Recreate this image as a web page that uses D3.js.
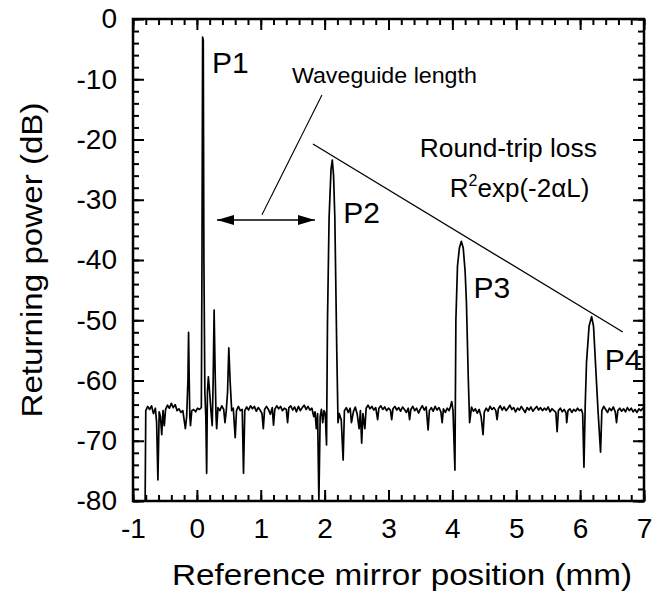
<!DOCTYPE html>
<html>
<head>
<meta charset="utf-8">
<script src="https://cdn.jsdelivr.net/npm/d3@7"></script>
<style>
  html, body { margin: 0; padding: 0; background: #fff; }
  svg { display: block; }
  text { font-family: "Liberation Sans", Arial, Helvetica, sans-serif; fill: #000; }
</style>
</head>
<body>
<svg id="chart" width="653" height="600"></svg>
<script>
// ---- data ----
const xTickValues = [-1, 0, 1, 2, 3, 4, 5, 6, 7];
const yTickValues = [0, -10, -20, -30, -40, -50, -60, -70, -80];
const xDomain = [-1, 7];
const yDomain = [-80, 0];

// Reference mirror position (mm)
const positionMM = [
 -0.81,-0.80,-0.77,-0.74,-0.71,-0.68,-0.65,-0.63,-0.61,-0.59,-0.57,-0.55,-0.53,-0.51,-0.49,-0.46,-0.43,-0.40,-0.37,-0.34,
 -0.31,-0.28,-0.25,-0.22,-0.20,-0.18,-0.16,-0.14,-0.13,-0.12,-0.11,-0.10,-0.08,-0.05,-0.02,0.01,0.04,0.07,0.08,0.09,
 0.10,0.11,0.125,0.14,0.153,0.165,0.18,0.20,0.22,0.24,0.255,0.27,0.285,0.30,0.31,0.33,0.36,0.39,0.42,0.44,
 0.46,0.48,0.50,0.52,0.545,0.57,0.60,0.62,0.65,0.68,0.71,0.73,0.75,0.78,0.81,0.84,0.87,0.90,0.93,0.96,
 0.99,1.02,1.04,1.06,1.09,1.12,1.15,1.18,1.20,1.22,1.25,1.28,1.31,1.34,1.37,1.40,1.42,1.44,1.47,1.50,
 1.53,1.56,1.59,1.62,1.65,1.68,1.71,1.74,1.77,1.80,1.83,1.85,1.87,1.89,1.91,1.93,1.95,1.97,1.99,2.01,
 2.03,2.045,2.07,2.10,2.12,2.14,2.16,2.19,2.21,2.23,2.26,2.29,2.31,2.34,2.37,2.40,2.42,2.45,2.48,2.51,
 2.54,2.56,2.58,2.60,2.63,2.65,2.68,2.71,2.74,2.77,2.80,2.83,2.85,2.88,2.91,2.94,2.97,3.00,3.03,3.05,
 3.07,3.10,3.13,3.16,3.19,3.22,3.25,3.28,3.31,3.33,3.35,3.38,3.41,3.44,3.47,3.50,3.53,3.56,3.59,3.62,
 3.64,3.67,3.70,3.73,3.76,3.79,3.82,3.84,3.86,3.89,3.92,3.95,3.97,3.99,4.01,4.04,4.055,4.08,4.11,4.14,
 4.17,4.20,4.22,4.25,4.27,4.30,4.33,4.36,4.39,4.42,4.45,4.48,4.50,4.53,4.56,4.59,4.62,4.65,4.68,4.70,
 4.72,4.75,4.78,4.81,4.84,4.87,4.90,4.93,4.96,4.99,5.02,5.05,5.08,5.11,5.14,5.17,5.20,5.23,5.26,5.29,
 5.32,5.35,5.38,5.41,5.44,5.47,5.50,5.53,5.56,5.59,5.62,5.64,5.66,5.69,5.72,5.75,5.78,5.79,5.81,5.84,
 5.87,5.90,5.93,5.96,5.99,6.02,6.04,6.06,6.08,6.10,6.14,6.18,6.21,6.24,6.28,6.32,6.34,6.37,6.40,6.43,
 6.46,6.49,6.52,6.55,6.57,6.59,6.62,6.65,6.68,6.71,6.74,6.77,6.80,6.83,6.86,6.89,6.92,6.95,6.98,7.00
];
// Returning power (dB)
const powerDB = [
 -80,-65,-64.3,-64.8,-64.2,-65.5,-64.6,-67,-76.5,-65.2,-66,-69,-65,-67.5,-64.8,-64.1,-64.6,-63.8,-64.5,-64,
 -65,-64.7,-65.3,-65,-66.5,-68,-66,-60,-52,-60,-66,-67.5,-65,-64.8,-65.2,-64.6,-64.8,-64.5,-40,-3,
 -3.5,-40,-62,-66,-75.4,-62,-59.4,-62,-65,-67.5,-60,-48.3,-58,-66,-68,-64.5,-65,-64.2,-64.8,-67,
 -65,-62,-54.6,-60,-65,-64.6,-69.5,-65,-64.3,-65,-64.8,-75.4,-65,-64.4,-64.9,-64.2,-64.7,-64.3,-65.1,-64.5,
 -64.9,-65.5,-68,-64.8,-64.3,-64.8,-65.6,-64.5,-67.4,-64.8,-64.2,-64.7,-64.3,-65,-64.6,-64.8,-67,-64.5,-64.2,-64.9,
 -64.4,-65.2,-64.3,-65,-64.5,-64.1,-64.8,-64.3,-64.9,-64.6,-66,-65.2,-68,-65.5,-80,-66,-64.8,-67,-65,-65.5,
 -70.7,-50,-33,-25,-23.4,-26,-33,-55,-67,-65.5,-66.5,-73.2,-65,-64.5,-65.3,-64.6,-67,-65.2,-64.4,-65.6,
 -68,-65,-70.4,-65.5,-68,-64.6,-64.1,-64.7,-64.3,-64.9,-64.5,-66.5,-64.6,-64.2,-64.8,-64.4,-65,-64.6,-64.9,-66.5,
 -64.7,-64.3,-64.9,-64.5,-65.1,-64.4,-64.8,-65.3,-64.6,-66.5,-64.8,-64.3,-65,-64.6,-65.4,-64.7,-64.2,-64.9,-64.4,-68.2,
 -65,-64.5,-65.1,-64.3,-64.9,-64.5,-65.2,-67,-64.7,-65.3,-64.6,-65,-64.3,-63.5,-65,-74.9,-50,-41,-38,-36.9,
 -38,-42,-47,-60,-67,-64.4,-65.1,-64.7,-65.4,-64.8,-66,-69,-65.2,-64.6,-65.1,-64.3,-64.8,-64.5,-65,-66.5,
 -64.7,-64.2,-64.9,-64.4,-65,-64.6,-64.1,-64.8,-64.5,-65.2,-64.6,-64.9,-64.3,-64.8,-65.3,-64.5,-64.9,-64.4,-65.1,-64.7,
 -64.3,-64.9,-64.5,-65,-64.6,-64.9,-64.4,-65.2,-64.7,-65,-65.3,-68.5,-65,-64.6,-65.2,-64.8,-65.4,-67,-65,-64.7,
 -65.3,-64.8,-65.1,-64.6,-65,-64.8,-65.5,-74.4,-64,-57,-51,-49.4,-51,-57,-65,-71.9,-65,-64.3,-64.8,-65.3,
 -64.6,-65,-64.4,-65.2,-67,-65,-64.6,-65.1,-64.7,-65.2,-64.5,-65,-64.6,-65.2,-64.8,-65.3,-64.7,-65,-64.6,-64.9
];

// Annotations (data coordinates)
const peakLabels = [
  { text: "P1", x: 0.236, y: -8.9 },
  { text: "P2", x: 2.29,  y: -33.9 },
  { text: "P3", x: 4.33,  y: -46.3 },
  { text: "P4", x: 6.386, y: -58.3 }
];
const lossLine = [[1.817, -20.75], [6.668, -51.95]];
const arrowLine = [[0.315, -33.36], [1.848, -33.36]];
const leaderLine = [[1.958, -12.6], [1.019, -32.5]];

// ---- drawing ----
const svg = d3.select("#chart");
const x = d3.scaleLinear().domain(xDomain).range([133, 644]);
const y = d3.scaleLinear().domain(yDomain).range([501, 19]);
const fs = 28;
const fmt = d => d < 0 ? "-" + Math.abs(d) : String(d);

function styleAxis(g) {
  g.selectAll(".domain").remove();
  g.selectAll(".tick line").attr("stroke", "#000").attr("stroke-width", 2);
  g.selectAll("text").attr("font-size", fs).attr("font-family", '"Liberation Sans", Arial, sans-serif');
}
const xMinor = d3.range(-1, 7.001, 0.2).map(v => +v.toFixed(2));
const yMinor = d3.range(-80, 0.001, 2);

// bottom
svg.append("g").attr("transform", `translate(0,${y(-80)})`)
  .call(d3.axisBottom(x).tickValues(xMinor).tickSize(-6).tickSizeOuter(0).tickFormat("")).call(styleAxis);
svg.append("g").attr("transform", `translate(0,${y(-80)})`)
  .call(d3.axisBottom(x).tickValues(xTickValues).tickSize(-11).tickSizeOuter(0).tickPadding(17).tickFormat(fmt))
  .call(styleAxis);
// top
svg.append("g").attr("transform", `translate(0,${y(0)})`)
  .call(d3.axisTop(x).tickValues(xMinor).tickSize(-6).tickSizeOuter(0).tickFormat("")).call(styleAxis);
svg.append("g").attr("transform", `translate(0,${y(0)})`)
  .call(d3.axisTop(x).tickValues(xTickValues).tickSize(-11).tickSizeOuter(0).tickFormat("")).call(styleAxis);
// left
svg.append("g").attr("transform", `translate(${x(-1)},0)`)
  .call(d3.axisLeft(y).tickValues(yMinor).tickSize(-6).tickSizeOuter(0).tickFormat("")).call(styleAxis);
svg.append("g").attr("transform", `translate(${x(-1)},0)`)
  .call(d3.axisLeft(y).tickValues(yTickValues).tickSize(-11).tickSizeOuter(0).tickPadding(16).tickFormat(fmt))
  .call(styleAxis);
// right
svg.append("g").attr("transform", `translate(${x(7)},0)`)
  .call(d3.axisRight(y).tickValues(yMinor).tickSize(-6).tickSizeOuter(0).tickFormat("")).call(styleAxis);
svg.append("g").attr("transform", `translate(${x(7)},0)`)
  .call(d3.axisRight(y).tickValues(yTickValues).tickSize(-11).tickSizeOuter(0).tickFormat("")).call(styleAxis);

// frame
svg.append("rect")
  .attr("x", x(-1)).attr("y", y(0))
  .attr("width", x(7) - x(-1)).attr("height", y(-80) - y(0))
  .attr("fill", "none").attr("stroke", "#000").attr("stroke-width", 2.5);

// trace
const trace = positionMM.map((p, i) => [p, powerDB[i]]);
svg.append("path")
  .datum(trace)
  .attr("fill", "none").attr("stroke", "#000").attr("stroke-width", 1.7)
  .attr("stroke-linejoin", "round")
  .attr("d", d3.line().x(d => x(d[0])).y(d => y(d[1])));

// annotation lines
const lineGen = d3.line().x(d => x(d[0])).y(d => y(d[1]));
svg.append("path").datum(lossLine).attr("d", lineGen).attr("stroke", "#000").attr("stroke-width", 1.3).attr("fill", "none");
svg.append("path").datum(leaderLine).attr("d", lineGen).attr("stroke", "#000").attr("stroke-width", 1.1).attr("fill", "none");

const defs = svg.append("defs");
defs.append("marker").attr("id", "ah").attr("viewBox", "0 0 10 10")
  .attr("refX", 10).attr("refY", 5).attr("markerWidth", 17).attr("markerHeight", 11)
  .attr("markerUnits", "userSpaceOnUse").attr("orient", "auto-start-reverse")
  .attr("preserveAspectRatio", "none")
  .append("path").attr("d", "M0,0.5 L10,5 L0,9.5 Z").attr("fill", "#000");
svg.append("path").datum(arrowLine).attr("d", lineGen)
  .attr("stroke", "#000").attr("stroke-width", 1.5).attr("fill", "none")
  .attr("marker-start", "url(#ah)").attr("marker-end", "url(#ah)");

// peak labels
svg.selectAll(".plabel").data(peakLabels).enter().append("text")
  .attr("class", "plabel")
  .attr("x", d => x(d.x)).attr("y", d => y(d.y))
  .attr("font-size", 30)
  .text(d => d.text);

// text annotations
svg.append("text").attr("x", x(1.488)).attr("y", y(-10.65))
  .attr("font-size", 22).attr("textLength", 185).attr("lengthAdjust", "spacingAndGlyphs")
  .text("Waveguide length");
svg.append("text").attr("x", x(3.49)).attr("y", y(-22.9))
  .attr("font-size", 26).attr("textLength", 177).attr("lengthAdjust", "spacingAndGlyphs")
  .text("Round-trip loss");
const rt = svg.append("text").attr("x", x(3.96)).attr("y", y(-29.5)).attr("font-size", 26);
rt.append("tspan").text("R");
rt.append("tspan").attr("font-size", 16).attr("dy", -11).text("2");
rt.append("tspan").attr("dy", 11).text("exp(-2αL)");

// axis titles
svg.append("text")
  .attr("transform", "translate(42,260) rotate(-90)")
  .attr("text-anchor", "middle").attr("font-size", 29)
  .attr("textLength", 315).attr("lengthAdjust", "spacingAndGlyphs")
  .text("Returning power (dB)");
svg.append("text")
  .attr("x", 402).attr("y", 585)
  .attr("text-anchor", "middle").attr("font-size", 29)
  .attr("textLength", 460).attr("lengthAdjust", "spacingAndGlyphs")
  .text("Reference mirror position (mm)");
</script>
</body>
</html>
